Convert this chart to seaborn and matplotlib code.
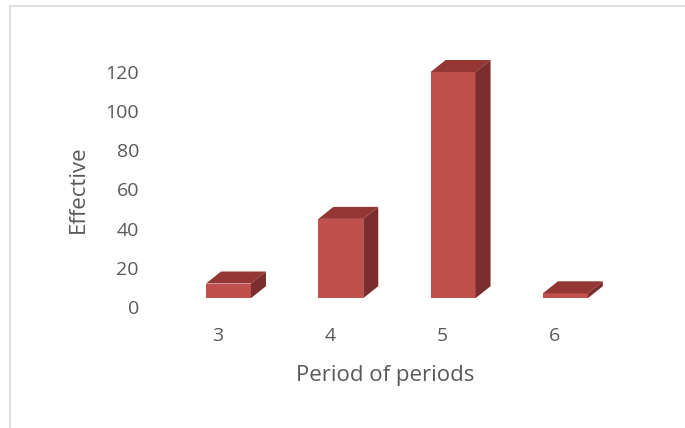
import matplotlib
matplotlib.use("Agg")
import matplotlib.pyplot as plt
import matplotlib.transforms as mtransforms
from matplotlib.patches import Polygon, Rectangle
import seaborn as sns
import pandas as pd

# ---- data ----
periods = ["3", "4", "5", "6"]
effective = [12, 45, 120, 7]
y_ticks = [0, 20, 40, 60, 80, 100, 120]
x_title = "Period of periods"
y_title = "Effective"

# ---- style ----
FRONT = "#C0504D"
TOP = "#943634"
SIDE = "#7B2E2D"
TEXT = "#595959"
FLOOR = 4.5          # level of the 3-D floor's front edge
DEPTH_PX = (15, 12)  # 3-D depth offset in pixels

sns.set_theme(style="white")
plt.rcParams["font.family"] = ["Open Sans", "DejaVu Sans"]

W, H = 685, 428
fig = plt.figure(figsize=(W / 100, H / 100), dpi=100)
ax_l, ax_r, ax_t, ax_b = 150, 640, 55, 310
ax = fig.add_axes([ax_l / W, 1 - ax_b / H, (ax_r - ax_l) / W, (ax_b - ax_t) / H])

df = pd.DataFrame({"period": periods, "effective": effective})
sns.barplot(data=df, x="period", y="effective", color=FRONT, width=0.4,
            saturation=1, ax=ax, zorder=3)

px_per_y = (307 - 72) / 120.0
ylo = -(ax_b - 307) / px_per_y
yhi = 120 + (72 - ax_t) / px_per_y
ax.set_ylim(ylo, yhi)
px_per_x = 112.3
xlo = -(228.5 - ax_l) / px_per_x
xhi = (ax_r - 228.5) / px_per_x
ax.set_xlim(xlo, xhi)

dx = DEPTH_PX[0] / px_per_x
dy = DEPTH_PX[1] / px_per_y

for p in ax.patches:
    top = p.get_y() + p.get_height()
    p.set_y(FLOOR)
    p.set_height(top - FLOOR)
    p.set_edgecolor("none")
    x0 = p.get_x()
    x1 = x0 + p.get_width()
    ax.add_patch(Polygon([(x0, top), (x1, top), (x1 + dx, top + dy), (x0 + dx, top + dy)],
                         closed=True, facecolor=TOP, edgecolor="none", zorder=3, clip_on=False))
    ax.add_patch(Polygon([(x1, FLOOR), (x1 + dx, FLOOR + dy), (x1 + dx, top + dy), (x1, top)],
                         closed=True, facecolor=SIDE, edgecolor="none", zorder=3, clip_on=False))

ax.set_yticks(y_ticks)
ax.set_yticklabels([str(v) for v in y_ticks])
ax.tick_params(axis="both", length=0, labelsize=14, labelcolor=TEXT)
ax.tick_params(axis="y", pad=8)
ax.tick_params(axis="x", pad=12)
shift = mtransforms.ScaledTranslation(-11 / 100, 0, fig.dpi_scale_trans)
for lab in ax.get_xticklabels():
    lab.set_transform(lab.get_transform() + shift)

for s in ax.spines.values():
    s.set_visible(False)
ax.set_facecolor("none")

ax.set_xlabel(x_title, fontsize=16, color=TEXT)
ax.set_ylabel(y_title, fontsize=16, color=TEXT)
ax.xaxis.set_label_coords((385 - ax_l) / (ax_r - ax_l), -(365 - ax_b) / (ax_b - ax_t))
ax.yaxis.set_label_coords(-(ax_l - 89) / (ax_r - ax_l), 0.5 + (189 - (ax_t + ax_b) / 2) * -1 / (ax_b - ax_t))
ax.xaxis.label.set_va("top")

fig.patches.append(Rectangle((10 / W, -0.1), 1.2, 1 - 6 / H + 0.1, transform=fig.transFigure,
                             fill=False, edgecolor="#D9D9D9", linewidth=1.2, zorder=0))

fig.savefig("out.png", dpi=100)
